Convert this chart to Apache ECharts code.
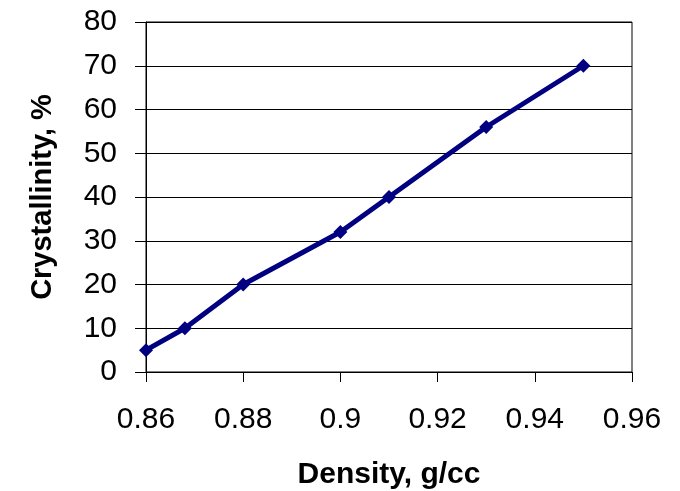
<!DOCTYPE html>
<html><head><meta charset="utf-8">
<script src="https://cdn.jsdelivr.net/npm/echarts@6/dist/echarts.min.js"></script>
<style>html,body{margin:0;padding:0;background:#fff}#c{width:680px;height:491px}</style>
</head><body><div id="c"></div>
<script>
const density = [0.86, 0.868, 0.88, 0.90, 0.91, 0.93, 0.95];
const crystallinity = [5, 10, 20, 32, 40, 56, 70];
const xTitle = 'Density, g/cc';
const yTitle = 'Crystallinity, %';

const chart = echarts.init(document.getElementById('c'));
const font = 'Liberation Sans, Arial, sans-serif';
chart.setOption({
  animation: false,
  grid: {left: 146, right: 48, top: 22, bottom: 119, show: true, borderColor: '#000', borderWidth: 1,
    containLabel: false, outerBoundsMode: 'none'},
  xAxis: {
    type: 'value', min: 0.86, max: 0.96, interval: 0.02,
    name: xTitle, nameLocation: 'middle', nameGap: 88,
    nameTextStyle: {fontFamily: font, fontSize: 30, fontWeight: 'bold', color: '#000'},
    axisLine: {show: true, onZero: false, lineStyle: {color: '#000', width: 1}},
    axisTick: {show: true, length: 10, lineStyle: {color: '#000'}},
    splitLine: {show: false},
    axisLabel: {fontFamily: font, fontSize: 30, color: '#000', margin: 33,
      formatter: v => String(parseFloat(v.toFixed(2)))}
  },
  yAxis: {
    type: 'value', min: 0, max: 80, interval: 10,
    name: yTitle, nameLocation: 'middle', nameGap: 89, nameRotate: 90,
    nameTextStyle: {fontFamily: font, fontSize: 29, fontWeight: 'bold', color: '#000'},
    axisLine: {show: true, lineStyle: {color: '#000', width: 1}},
    axisTick: {show: true, length: 11, lineStyle: {color: '#000'}},
    splitLine: {show: true, lineStyle: {color: '#000', width: 1}},
    axisLabel: {fontFamily: font, fontSize: 30, color: '#000', margin: 29}
  },
  series: [{
    type: 'line',
    data: density.map((d, i) => [d, crystallinity[i]]),
    symbol: 'diamond', symbolSize: 14, showSymbol: true,
    lineStyle: {color: '#000080', width: 5},
    itemStyle: {color: '#000080'}
  }]
});
</script></body></html>
